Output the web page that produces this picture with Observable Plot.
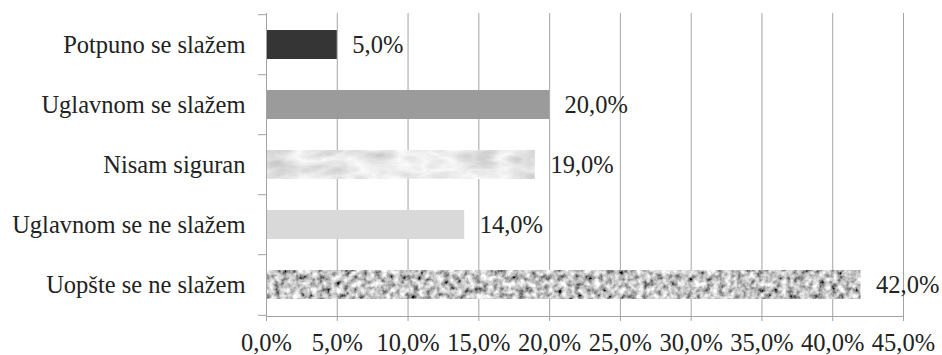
<!DOCTYPE html>
<html><head><meta charset="utf-8">
<script src="https://cdn.jsdelivr.net/npm/d3@7"></script>
<script src="https://cdn.jsdelivr.net/npm/@observablehq/plot@0.6"></script>
<style>html,body{margin:0;padding:0;background:#fff}svg{display:block}</style>
</head><body><div id="chart"></div>
<script>
const categories = ["Potpuno se slažem", "Uglavnom se slažem", "Nisam siguran", "Uglavnom se ne slažem", "Uopšte se ne slažem"];
const values = [5, 20, 19, 14, 42];
const xTicks = [0, 5, 10, 15, 20, 25, 30, 35, 40, 45];

const W = 942, H = 355, mT = 13, mB = 39, mL = 266, mR = 39;
const step = (H - mT - mB) / categories.length;
const data = categories.map((c, i) => ({category: c, value: values[i]}));
const fmt = d => d.toFixed(1).replace(".", ",") + "%";
const lineColor = "#a3a3a3";

const plot = Plot.plot({
  width: W, height: H,
  marginTop: mT, marginBottom: mB, marginLeft: mL, marginRight: mR,
  style: {fontFamily: "'Liberation Serif', 'Times New Roman', serif", fontSize: "24.5px", color: "#222", background: "#fff"},
  x: {domain: [0, 45], label: null},
  y: {domain: categories, paddingInner: 0.52, paddingOuter: 0.26, label: null},
  color: {domain: categories, range: ["#353535", "#9b9b9b", "url(#marble)", "#d9d9d9", "url(#granite)"]},
  marks: [
    Plot.gridX(xTicks, {stroke: lineColor, strokeOpacity: 1}),
    Plot.barX(data, {x: "value", y: "category", fill: "category"}),
    Plot.frame({anchor: "left", stroke: lineColor}),
    Plot.frame({anchor: "bottom", stroke: lineColor}),
    Plot.axisX(xTicks, {tickSize: 5, tickPadding: 12, tickFormat: fmt, stroke: lineColor, label: null}),
    Plot.axisY({tickSize: 0, tickPadding: 21, label: null}),
    Plot.axisY({tickSize: 8, text: null, dy: -step / 2, stroke: lineColor, label: null}),
    Plot.axisY([categories[categories.length - 1]], {tickSize: 8, text: null, dy: step / 2, stroke: lineColor, label: null}),
    Plot.text(data, {x: "value", y: "category", text: d => fmt(d.value), textAnchor: "start", dx: 15, fill: "#222", fontSize: 24.5})
  ]
});

const ns = "http://www.w3.org/2000/svg";
const defs = document.createElementNS(ns, "defs");
defs.innerHTML = `
  <filter id="fGranite" filterUnits="userSpaceOnUse" x="0" y="0" width="${W}" height="${H}">
    <feTurbulence type="fractalNoise" baseFrequency="0.16" numOctaves="3" seed="4" result="t"/>
    <feColorMatrix in="t" type="matrix" values="1.7 0 0 0 -0.3  1.7 0 0 0 -0.3  1.7 0 0 0 -0.3  0 0 0 0 1"/>
  </filter>
  <filter id="fMarble" filterUnits="userSpaceOnUse" x="0" y="0" width="${W}" height="${H}">
    <feTurbulence type="turbulence" baseFrequency="0.02 0.05" numOctaves="4" seed="7" result="t"/>
    <feColorMatrix in="t" type="matrix" values="-0.55 0 0 0 0.98  -0.55 0 0 0 0.98  -0.55 0 0 0 0.98  0 0 0 0 1"/>
  </filter>
  <pattern id="granite" patternUnits="userSpaceOnUse" x="0" y="0" width="${W}" height="${H}">
    <rect width="${W}" height="${H}" filter="url(#fGranite)"/>
  </pattern>
  <pattern id="marble" patternUnits="userSpaceOnUse" x="0" y="0" width="${W}" height="${H}">
    <rect width="${W}" height="${H}" filter="url(#fMarble)"/>
  </pattern>`;
plot.insertBefore(defs, plot.firstChild);
document.getElementById("chart").appendChild(plot);
</script>
</body></html>
